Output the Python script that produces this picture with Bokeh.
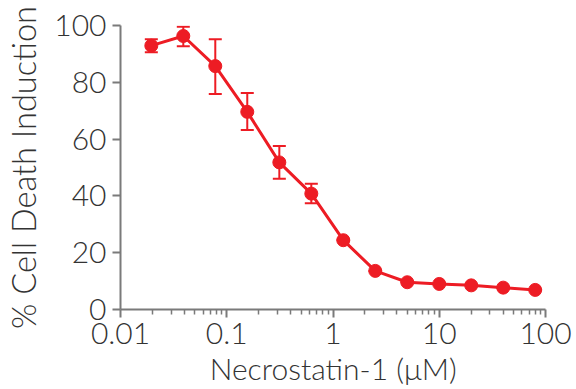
from bokeh.plotting import figure
from bokeh.models import ColumnDataSource, Whisker, TeeHead, FixedTicker, Range1d
from bokeh.embed import file_html
from bokeh.resources import INLINE

# Data
conc = [0.0195, 0.039, 0.078, 0.156, 0.3125, 0.625, 1.25, 2.5, 5, 10, 20, 40, 80]
death = [92.9, 96.3, 85.7, 69.6, 51.8, 40.8, 24.4, 13.6, 9.6, 9.0, 8.5, 7.7, 6.9]
upper = [95.2, 99.6, 95.2, 76.2, 57.6, 44.3, 24.4, 13.6, 9.6, 9.0, 8.5, 7.7, 6.9]
lower = [90.6, 92.7, 75.9, 63.2, 46.0, 37.4, 24.4, 13.6, 9.6, 9.0, 8.5, 7.7, 6.9]
x_ticks = [0.01, 0.1, 1, 10, 100]
x_tick_labels = ["0.01", "0.1", "1", "10", "100"]
y_ticks = [0, 20, 40, 60, 80, 100]
x_title = "Necrostatin-1 (μM)"
y_title = "% Cell Death Induction"

RED = "#ED1C24"
AXIS = "#7a7a7a"
TEXT = "#333333"
FONT = "Lato Light"

src = ColumnDataSource(dict(x=conc, y=death, upper=upper, lower=lower))

p = figure(width=576, height=389, x_axis_type="log",
           x_range=Range1d(0.01, 100), y_range=Range1d(0, 100),
           output_backend="svg", toolbar_location=None,
           min_border_left=120, min_border_right=31,
           min_border_top=25, min_border_bottom=80)
p.outline_line_color = None
p.xgrid.visible = False
p.ygrid.visible = False

minor = [m * d for d in [0.01, 0.1, 1, 10] for m in range(2, 10)]
p.xaxis.ticker = FixedTicker(ticks=x_ticks, minor_ticks=minor)
p.xaxis.major_label_overrides = {t: l for t, l in zip(x_ticks, x_tick_labels)}
p.yaxis.ticker = FixedTicker(ticks=y_ticks)

for ax in (p.xaxis, p.yaxis):
    ax.axis_line_color = AXIS
    ax.axis_line_width = 2
    ax.major_tick_line_color = AXIS
    ax.major_tick_line_width = 2
    ax.minor_tick_line_color = AXIS
    ax.minor_tick_line_width = 1.5
    ax.major_tick_out = 8
    ax.major_tick_in = 0
    ax.minor_tick_in = 0
    ax.major_label_text_font = FONT
    ax.major_label_text_font_size = "30px"
    ax.major_label_text_color = TEXT
    ax.axis_label_text_font = FONT
    ax.axis_label_text_font_style = "normal"
    ax.axis_label_text_color = TEXT
p.xaxis.axis_label_text_font_size = "30px"
p.yaxis.axis_label_text_font_size = "32.5px"
p.xaxis.minor_tick_out = 5
p.yaxis.minor_tick_out = 0
p.xaxis.major_label_standoff = 5
p.yaxis.major_label_standoff = 6
p.xaxis.axis_label = x_title
p.yaxis.axis_label = y_title
p.xaxis.axis_label_standoff = 3
p.yaxis.axis_label_standoff = 8

p.add_layout(Whisker(source=src, base="x", upper="upper", lower="lower",
                     line_color=RED, line_width=2,
                     upper_head=TeeHead(size=13, line_color=RED, line_width=2),
                     lower_head=TeeHead(size=13, line_color=RED, line_width=2)))
p.line("x", "y", source=src, line_color=RED, line_width=3)
p.scatter("x", "y", source=src, size=13, fill_color=RED, line_color=RED)

open("out.html", "w").write(file_html(p, INLINE))
